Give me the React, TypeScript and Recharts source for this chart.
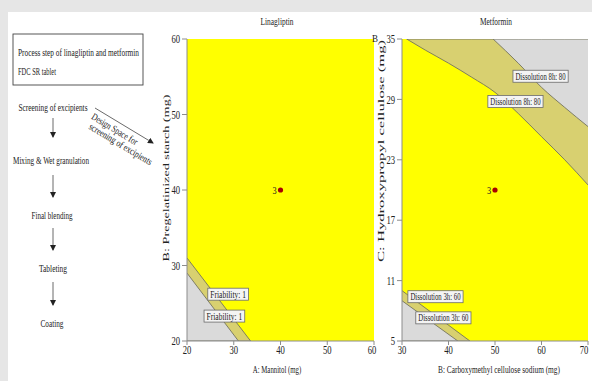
import React from 'react'
import { ComposedChart, Area, Scatter, XAxis, YAxis } from 'recharts'

const FONT = '"Liberation Serif", "Times New Roman", serif'
const INK = '#222222'
const YELLOW = '#ffff00'
const KHAKI = '#d8d070'
const GREY = '#dadada'
const EDGE = '#74745e'
const AXIS = '#8c8c8c'

// Linagliptin: A: Mannitol (x) vs B: Pregelatinized starch (y)
const linaXTicks = [20, 30, 40, 50, 60]
const linaYTicks = [20, 30, 40, 50, 60]
const linaFriabOuterX = [20, 33.6]
const linaFriabOuterY = [31, 20]
const linaFriabInnerX = [20, 31]
const linaFriabInnerY = [29, 20]
const linaCenter = [{ x: 40, y: 40, n: '3' }]
const linaTags = [
  { x: 28.8, y: 26.2, text: 'Friability: 1' },
  { x: 28.0, y: 23.3, text: 'Friability: 1' },
]

// Metformin: B: Carboxymethyl cellulose sodium (x) vs C: Hydroxypropyl cellulose (y)
const metXTicks = [30, 40, 50, 60, 70]
const metYTicks = [5, 11, 17, 23, 29, 35]
const metDiss8InnerX = [31, 35, 40, 45, 50, 55, 60, 65, 70]
const metDiss8InnerY = [35, 33.9, 32.6, 31.2, 29.7, 27.6, 25.3, 23.0, 20.5]
const metDiss8OuterX = [49.6, 55, 60, 65, 70]
const metDiss8OuterY = [35, 32.6, 30.2, 28.2, 26.3]
const metDiss3OuterX = [30, 44.6]
const metDiss3OuterY = [10, 5]
const metDiss3InnerX = [30, 42]
const metDiss3InnerY = [9, 5]
const metCenter = [{ x: 50, y: 20, n: '3' }]
const metTags = [
  { x: 59.8, y: 31.3, text: 'Dissolution 8h: 80' },
  { x: 54.4, y: 28.8, text: 'Dissolution 8h: 80' },
  { x: 37.2, y: 9.4, text: 'Dissolution 3h: 60' },
  { x: 38.9, y: 7.3, text: 'Dissolution 3h: 60' },
]

const below = (xs: number[], ys: number[], base: number) =>
  xs.map((x, i) => ({ x, v: [base, ys[i]] }))
const above = (xs: number[], ys: number[], top: number) =>
  xs.map((x, i) => ({ x, v: [ys[i], top] }))
const full = (x: number[], y: number[]) => [
  { x: x[0], v: [y[0], y[1]] },
  { x: x[1], v: [y[0], y[1]] },
]

const XTick = (p: any) => (
  <g transform={`translate(${p.x},${p.y})`}>
    <text transform="scale(0.72,1)" textAnchor="middle" dy="0.75em" fontSize={12} fontFamily={FONT} fill={INK}>
      {p.payload.value}
    </text>
  </g>
)

const YTick = (p: any) => (
  <g transform={`translate(${p.x},${p.y})`}>
    <text transform="scale(0.72,1)" textAnchor="end" dy="0.35em" fontSize={12} fontFamily={FONT} fill={INK}>
      {p.payload.value}
    </text>
  </g>
)

const TagShape = (p: any) => {
  const { cx, cy, payload } = p
  const w = payload.text.length * 2.9 + 3
  return (
    <g>
      <rect x={cx - w / 2} y={cy - 6} width={w} height={12} fill="#f4f4f4" stroke="#6a6a6a" strokeWidth={0.8} />
      <text
        x={cx}
        y={cy + 3.5}
        textAnchor="middle"
        textLength={w - 5}
        lengthAdjust="spacingAndGlyphs"
        fontSize={10.5}
        fontFamily={FONT}
        fill={INK}
      >
        {payload.text}
      </text>
    </g>
  )
}

const DotShape = (p: any) => (
  <g>
    <circle cx={p.cx} cy={p.cy} r={2.6} fill="#a80000" />
    <g transform={`translate(${p.cx - 4},${p.cy + 3.5}) scale(0.75,1)`}>
      <text textAnchor="end" fontSize={11} fontFamily={FONT} fill={INK}>
        {p.payload.n}
      </text>
    </g>
  </g>
)

type Layer = { data: { x: number; v: number[] }[]; fill: string; curve: 'linear' | 'monotone' }

type PanelProps = {
  left: number
  width: number
  margin: { top: number; right: number; bottom: number; left: number }
  xDomain: number[]
  yDomain: number[]
  xTicks: number[]
  yTicks: number[]
  layers: Layer[]
  center: { x: number; y: number; n: string }[]
  tags: { x: number; y: number; text: string }[]
}

function ContourPanel({ left, width, margin, xDomain, yDomain, xTicks, yTicks, layers, center, tags }: PanelProps) {
  return (
    <div style={{ position: 'absolute', left, top: 0 }}>
      <ComposedChart width={width} height={381} margin={margin}>
        <XAxis
          dataKey="x"
          type="number"
          domain={xDomain}
          ticks={xTicks}
          allowDataOverflow
          height={30}
          tickSize={4}
          tickMargin={0}
          stroke={AXIS}
          tick={XTick}
        />
        <XAxis xAxisId="top" orientation="top" type="number" domain={xDomain} allowDataOverflow height={0} tick={false} tickLine={false} stroke={AXIS} />
        <YAxis
          type="number"
          domain={yDomain}
          ticks={yTicks}
          allowDataOverflow
          width={20}
          tickSize={5}
          tickMargin={2}
          stroke={AXIS}
          tick={YTick}
        />
        <YAxis yAxisId="right" orientation="right" type="number" domain={yDomain} allowDataOverflow width={0} tick={false} tickLine={false} stroke={AXIS} />
        <Area
          data={full(xDomain, yDomain)}
          dataKey="v"
          type="linear"
          fill={YELLOW}
          fillOpacity={1}
          stroke="none"
          isAnimationActive={false}
        />
        {layers.map((l, i) => (
          <Area
            key={i}
            data={l.data}
            dataKey="v"
            type={l.curve}
            fill={l.fill}
            fillOpacity={1}
            stroke={EDGE}
            strokeWidth={0.9}
            isAnimationActive={false}
          />
        ))}
        <Scatter data={tags} dataKey="y" shape={TagShape} isAnimationActive={false} />
        <Scatter data={center} dataKey="y" shape={DotShape} isAnimationActive={false} />
      </ComposedChart>
    </div>
  )
}

type TProps = {
  x: number
  y: number
  len?: number
  size?: number
  anchor?: string
  bold?: boolean
  rotate?: number
  sx?: number
  sy?: number
  children: string
}

const T = (p: TProps) => (
  <text
    transform={`translate(${p.x},${p.y}) rotate(${p.rotate || 0}) scale(${p.sx || 1},${p.sy || 1})`}
    textAnchor={p.anchor || 'middle'}
    textLength={p.len}
    lengthAdjust={p.len ? 'spacingAndGlyphs' : undefined}
    fontSize={p.size || 11}
    fontFamily={FONT}
    fontWeight={p.bold ? 'bold' : 'normal'}
    fill={INK}
  >
    {p.children}
  </text>
)

const DownArrow = ({ x, y1, y2 }: { x: number; y1: number; y2: number }) => (
  <line x1={x} y1={y1} x2={x} y2={y2} stroke="#444" strokeWidth={0.8} markerEnd="url(#head)" />
)

export default function App() {
  return (
    <div style={{ position: 'absolute', left: 0, top: 0, width: 592, height: 381, background: '#e6e6e6', overflow: 'hidden' }}>
      <div style={{ position: 'absolute', left: 8, top: 12, width: 584, height: 369, background: '#ffffff' }} />
      <ContourPanel
        left={150}
        width={230}
        margin={{ top: 39, right: 6, bottom: 10, left: 17 }}
        xDomain={[20, 60]}
        yDomain={[20, 60]}
        xTicks={linaXTicks}
        yTicks={linaYTicks}
        layers={[
          { data: below(linaFriabOuterX, linaFriabOuterY, 20), fill: KHAKI, curve: 'linear' },
          { data: below(linaFriabInnerX, linaFriabInnerY, 20), fill: GREY, curve: 'linear' },
        ]}
        center={linaCenter}
        tags={linaTags}
      />
      <ContourPanel
        left={370}
        width={222}
        margin={{ top: 39, right: 4, bottom: 10, left: 12 }}
        xDomain={[30, 70]}
        yDomain={[5, 35]}
        xTicks={metXTicks}
        yTicks={metYTicks}
        layers={[
          { data: above(metDiss8InnerX, metDiss8InnerY, 35), fill: KHAKI, curve: 'monotone' },
          { data: above(metDiss8OuterX, metDiss8OuterY, 35), fill: GREY, curve: 'monotone' },
          { data: below(metDiss3OuterX, metDiss3OuterY, 5), fill: KHAKI, curve: 'linear' },
          { data: below(metDiss3InnerX, metDiss3InnerY, 5), fill: GREY, curve: 'linear' },
        ]}
        center={metCenter}
        tags={metTags}
      />
      <svg width={592} height={381} style={{ position: 'absolute', left: 0, top: 0, pointerEvents: 'none' }}>
        <defs>
          <marker id="head" markerWidth="6" markerHeight="6" refX="5" refY="3" orient="auto" markerUnits="userSpaceOnUse">
            <path d="M0,0 L6,3 L0,6 z" fill="#222" />
          </marker>
        </defs>
        {/* process flow */}
        <rect x={13} y={34} width={130} height={51} fill="none" stroke="#444" strokeWidth={0.9} />
        <T x={18} y={56} len={121} anchor="start">Process step of linagliptin and metformin</T>
        <T x={18} y={75} len={38} anchor="start">FDC SR tablet</T>
        <T x={53} y={111} len={69}>Screening of excipients</T>
        <DownArrow x={53} y1={118} y2={137} />
        <T x={51} y={164} len={76}>Mixing &amp; Wet granulation</T>
        <DownArrow x={53} y1={175} y2={197} />
        <T x={52} y={219} len={41}>Final blending</T>
        <DownArrow x={53} y1={228} y2={250} />
        <T x={53} y={272} len={28}>Tableting</T>
        <DownArrow x={53} y1={282} y2={305} />
        <T x={52} y={327} len={23}>Coating</T>
        <line x1={95} y1={108} x2={153} y2={143} stroke="#444" strokeWidth={0.8} markerEnd="url(#head)" />
        <T x={113} y={132} len={52} size={10} rotate={31}>Design Space for</T>
        <T x={119} y={147} len={72} size={10} rotate={31}>screening of excipients</T>
        {/* panel titles and axis labels */}
        <T x={277} y={25} len={33}>Linagliptin</T>
        <T x={496} y={25} len={32}>Metformin</T>
        <T x={375} y={42} len={6}>B</T>
        <T x={277} y={373} sx={0.62}>A: Mannitol (mg)</T>
        <T x={499} y={373} size={10.5} sx={0.7}>B: Carboxymethyl cellulose sodium (mg)</T>
        <T x={169} y={178} len={167} size={11} rotate={-90} sy={0.8}>B: Pregelatinized starch (mg)</T>
        <T x={384} y={151} len={222} size={11} rotate={-90} sy={0.8}>C: Hydroxypropyl cellulose (mg)</T>
      </svg>
    </div>
  )
}
